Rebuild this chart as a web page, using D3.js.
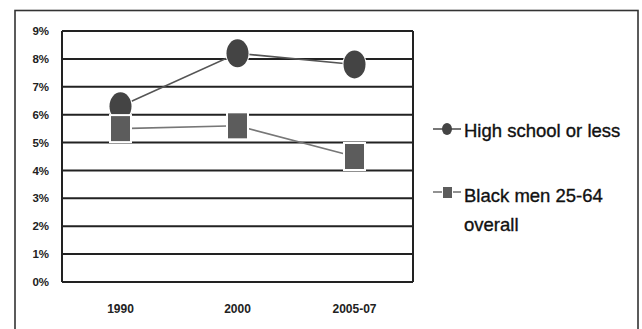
<!DOCTYPE html>
<html><head><meta charset="utf-8">
<script src="https://cdn.jsdelivr.net/npm/d3@7"></script>
<style>body{margin:0;background:#fff}svg{display:block}</style>
</head><body>
<svg id="c" width="642" height="329"></svg>
<script>
const categories = ["1990", "2000", "2005-07"];
const highSchool = [6.3, 8.2, 7.8];
const blackMen = [5.5, 5.6, 4.5];
const yTicks = [0,1,2,3,4,5,6,7,8,9];
const seriesNames = ["High school or less", "Black men 25-64 overall"];

const svg = d3.select("#c");
const L = 62, R = 413, T = 31, B = 282;
const x = d3.scalePoint().domain(categories).range([L, R]).padding(0.5);
const y = d3.scaleLinear().domain([0, 9]).range([B, T]);

// outer frame
svg.append("rect").attr("x", 15).attr("y", 10.5).attr("width", 623).attr("height", 340)
  .attr("fill", "none").attr("stroke", "#333").attr("stroke-width", 1.6);

// gridlines
svg.append("g").selectAll("line").data(yTicks).join("line")
  .attr("x1", L).attr("x2", R).attr("y1", d => y(d)).attr("y2", d => y(d))
  .attr("stroke", "#222").attr("stroke-width", 2);
// plot sides
svg.append("line").attr("x1", L).attr("x2", L).attr("y1", T).attr("y2", B).attr("stroke", "#222").attr("stroke-width", 2);
svg.append("line").attr("x1", R).attr("x2", R).attr("y1", T).attr("y2", B).attr("stroke", "#222").attr("stroke-width", 2);

// y labels
svg.append("g").selectAll("text").data(yTicks).join("text")
  .attr("x", 49).attr("y", d => y(d)).attr("dy", "0.36em").attr("text-anchor", "end")
  .attr("font-family", "Liberation Sans, Arial, sans-serif").attr("font-weight", "bold")
  .attr("font-size", 11.5).attr("fill", "#222").text(d => d + "%");

// x labels
svg.append("g").selectAll("text").data(categories).join("text")
  .attr("x", d => x(d)).attr("y", 313).attr("text-anchor", "middle")
  .attr("font-family", "Liberation Sans, Arial, sans-serif").attr("font-weight", "bold")
  .attr("font-size", 12).attr("fill", "#222").text(d => d);

const line = d3.line().x((d, i) => x(categories[i])).y(d => y(d));

// circle series
svg.append("path").datum(highSchool).attr("d", line).attr("fill", "none")
  .attr("stroke", "#555").attr("stroke-width", 1.6);
svg.append("g").selectAll("ellipse").data(highSchool).join("ellipse")
  .attr("cx", (d, i) => x(categories[i])).attr("cy", d => y(d))
  .attr("rx", 11).attr("ry", 14).attr("fill", "#444")
  .attr("stroke", "#fff").attr("stroke-width", 2).attr("paint-order", "stroke");

// square series
svg.append("path").datum(blackMen).attr("d", line).attr("fill", "none")
  .attr("stroke", "#777").attr("stroke-width", 1.6);
svg.append("g").selectAll("rect").data(blackMen).join("rect")
  .attr("x", (d, i) => x(categories[i]) - 9.5).attr("y", d => y(d) - 12.5)
  .attr("width", 19).attr("height", 25).attr("fill", "#5c5c5c")
  .attr("stroke", "#fff").attr("stroke-width", 4).attr("paint-order", "stroke");

// legend
const lg = svg.append("g").attr("font-family", "Liberation Sans, Arial, sans-serif")
  .attr("font-size", 18.5).attr("fill", "#111").attr("stroke", "#111").attr("stroke-width", 0.35);
lg.append("line").attr("x1", 433).attr("x2", 461).attr("y1", 129).attr("y2", 129).attr("stroke", "#555").attr("stroke-width", 1.6);
lg.append("ellipse").attr("cx", 447).attr("cy", 129).attr("rx", 5).attr("ry", 6).attr("fill", "#444").attr("stroke", "none");
lg.append("text").attr("x", 464).attr("y", 137).text(seriesNames[0]);
lg.append("line").attr("x1", 433).attr("x2", 461).attr("y1", 192).attr("y2", 192).attr("stroke", "#777").attr("stroke-width", 1.6);
lg.append("rect").attr("x", 443).attr("y", 187).attr("width", 9).attr("height", 11).attr("fill", "#5c5c5c")
  .attr("stroke", "#fff").attr("stroke-width", 2).attr("paint-order", "stroke");
const t2 = lg.append("text").attr("x", 464).attr("y", 202);
t2.append("tspan").attr("x", 464).text("Black men 25-64");
t2.append("tspan").attr("x", 464).attr("dy", 29).text("overall");
</script>
</body></html>
